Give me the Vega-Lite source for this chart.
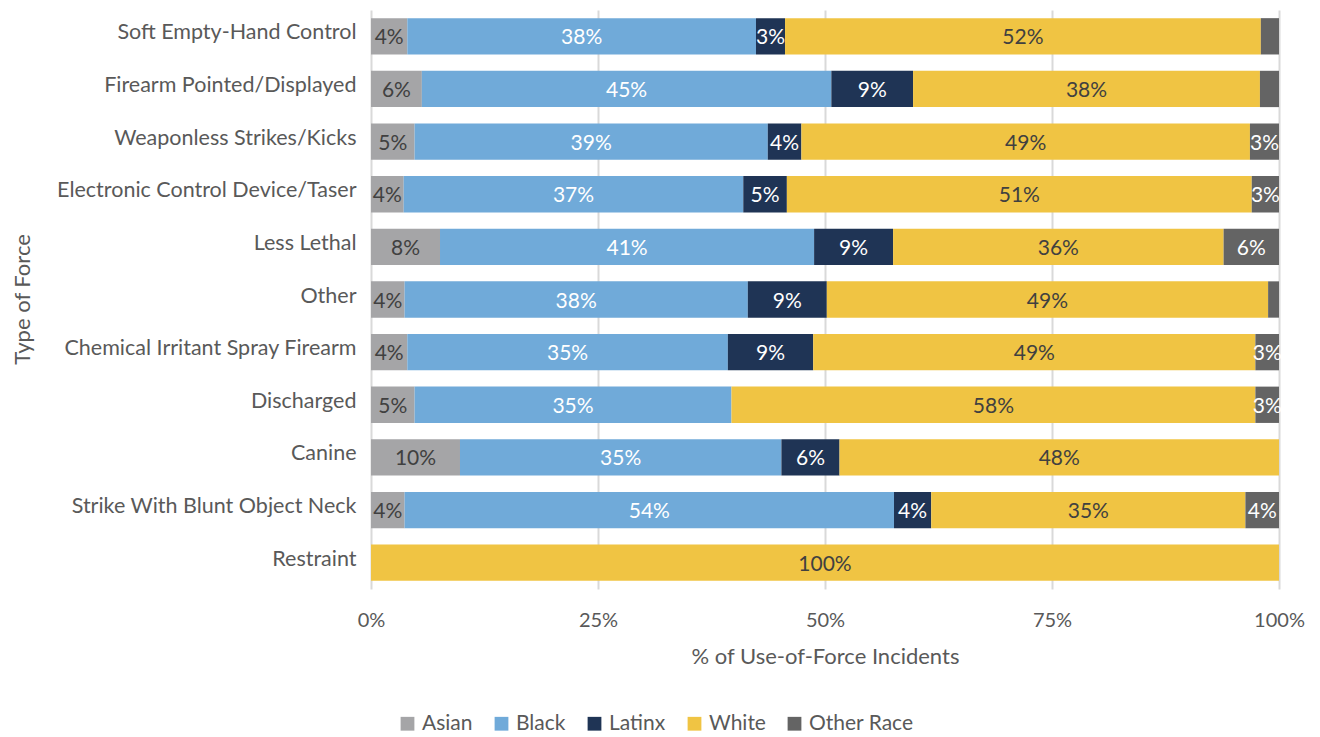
{
  "$schema": "https://vega.github.io/schema/vega-lite/v6.json",
  "width": 908,
  "height": 579,
  "autosize": "none",
  "padding": {"left": 371, "top": 10, "right": 41, "bottom": 148},
  "background": "white",
  "config": {
    "font": "Lato",
    "view": {"stroke": null}
  },
  "data": {
    "values": [
      {"force": "Soft Empty-Hand Control", "race": "Asian", "o": 1, "pct": 0.040},
      {"force": "Soft Empty-Hand Control", "race": "Black", "o": 2, "pct": 0.384},
      {"force": "Soft Empty-Hand Control", "race": "Latinx", "o": 3, "pct": 0.032},
      {"force": "Soft Empty-Hand Control", "race": "White", "o": 4, "pct": 0.524},
      {"force": "Soft Empty-Hand Control", "race": "Other Race", "o": 5, "pct": 0.020},
      {"force": "Firearm Pointed/Displayed", "race": "Asian", "o": 1, "pct": 0.056},
      {"force": "Firearm Pointed/Displayed", "race": "Black", "o": 2, "pct": 0.451},
      {"force": "Firearm Pointed/Displayed", "race": "Latinx", "o": 3, "pct": 0.090},
      {"force": "Firearm Pointed/Displayed", "race": "White", "o": 4, "pct": 0.382},
      {"force": "Firearm Pointed/Displayed", "race": "Other Race", "o": 5, "pct": 0.021},
      {"force": "Weaponless Strikes/Kicks", "race": "Asian", "o": 1, "pct": 0.048},
      {"force": "Weaponless Strikes/Kicks", "race": "Black", "o": 2, "pct": 0.389},
      {"force": "Weaponless Strikes/Kicks", "race": "Latinx", "o": 3, "pct": 0.037},
      {"force": "Weaponless Strikes/Kicks", "race": "White", "o": 4, "pct": 0.494},
      {"force": "Weaponless Strikes/Kicks", "race": "Other Race", "o": 5, "pct": 0.032},
      {"force": "Electronic Control Device/Taser", "race": "Asian", "o": 1, "pct": 0.036},
      {"force": "Electronic Control Device/Taser", "race": "Black", "o": 2, "pct": 0.374},
      {"force": "Electronic Control Device/Taser", "race": "Latinx", "o": 3, "pct": 0.048},
      {"force": "Electronic Control Device/Taser", "race": "White", "o": 4, "pct": 0.512},
      {"force": "Electronic Control Device/Taser", "race": "Other Race", "o": 5, "pct": 0.030},
      {"force": "Less Lethal", "race": "Asian", "o": 1, "pct": 0.076},
      {"force": "Less Lethal", "race": "Black", "o": 2, "pct": 0.412},
      {"force": "Less Lethal", "race": "Latinx", "o": 3, "pct": 0.087},
      {"force": "Less Lethal", "race": "White", "o": 4, "pct": 0.364},
      {"force": "Less Lethal", "race": "Other Race", "o": 5, "pct": 0.061},
      {"force": "Other", "race": "Asian", "o": 1, "pct": 0.037},
      {"force": "Other", "race": "Black", "o": 2, "pct": 0.378},
      {"force": "Other", "race": "Latinx", "o": 3, "pct": 0.087},
      {"force": "Other", "race": "White", "o": 4, "pct": 0.486},
      {"force": "Other", "race": "Other Race", "o": 5, "pct": 0.012},
      {"force": "Chemical Irritant Spray Firearm", "race": "Asian", "o": 1, "pct": 0.040},
      {"force": "Chemical Irritant Spray Firearm", "race": "Black", "o": 2, "pct": 0.353},
      {"force": "Chemical Irritant Spray Firearm", "race": "Latinx", "o": 3, "pct": 0.094},
      {"force": "Chemical Irritant Spray Firearm", "race": "White", "o": 4, "pct": 0.487},
      {"force": "Chemical Irritant Spray Firearm", "race": "Other Race", "o": 5, "pct": 0.026},
      {"force": "Discharged", "race": "Asian", "o": 1, "pct": 0.048},
      {"force": "Discharged", "race": "Black", "o": 2, "pct": 0.349},
      {"force": "Discharged", "race": "White", "o": 4, "pct": 0.577},
      {"force": "Discharged", "race": "Other Race", "o": 5, "pct": 0.026},
      {"force": "Canine", "race": "Asian", "o": 1, "pct": 0.098},
      {"force": "Canine", "race": "Black", "o": 2, "pct": 0.354},
      {"force": "Canine", "race": "Latinx", "o": 3, "pct": 0.064},
      {"force": "Canine", "race": "White", "o": 4, "pct": 0.484},
      {"force": "Strike With Blunt Object Neck", "race": "Asian", "o": 1, "pct": 0.037},
      {"force": "Strike With Blunt Object Neck", "race": "Black", "o": 2, "pct": 0.539},
      {"force": "Strike With Blunt Object Neck", "race": "Latinx", "o": 3, "pct": 0.041},
      {"force": "Strike With Blunt Object Neck", "race": "White", "o": 4, "pct": 0.346},
      {"force": "Strike With Blunt Object Neck", "race": "Other Race", "o": 5, "pct": 0.037},
      {"force": "Restraint", "race": "White", "o": 4, "pct": 1.0}
    ]
  },
  "transform": [
    {"stack": "pct", "groupby": ["force"], "sort": [{"field": "o", "order": "ascending"}], "as": ["x0", "x1"]},
    {"calculate": "(datum.x0 + datum.x1) / 2", "as": "mid"}
  ],
  "encoding": {
    "y": {
      "field": "force",
      "type": "nominal",
      "sort": ["Soft Empty-Hand Control", "Firearm Pointed/Displayed", "Weaponless Strikes/Kicks", "Electronic Control Device/Taser", "Less Lethal", "Other", "Chemical Irritant Spray Firearm", "Discharged", "Canine", "Strike With Blunt Object Neck", "Restraint"],
      "scale": {"paddingInner": 0.31, "paddingOuter": 0.155},
      "axis": {
        "title": "Type of Force",
        "titleFont": "Lato",
        "titleFontSize": 22,
        "titleFontWeight": "normal",
        "titleColor": "#595959",
        "titleX": -349,
        "titleY": 289,
        "titleAngle": -90,
        "titleAlign": "center",
        "titleBaseline": "middle",
        "labelFont": "Lato",
        "labelFontSize": 21.5,
        "labelColor": "#595959",
        "labelPadding": 15,
        "labelOffset": -3,
        "labelLimit": 0,
        "ticks": false,
        "domain": false,
        "grid": false
      }
    }
  },
  "layer": [
    {
      "mark": {"type": "bar"},
      "encoding": {
        "x": {
          "field": "x0",
          "type": "quantitative",
          "scale": {"domain": [0, 1], "nice": false},
          "axis": {
            "title": "% of Use-of-Force Incidents",
            "titleFont": "Lato",
            "titleFontSize": 22,
            "titleFontWeight": "normal",
            "titleColor": "#595959",
            "titlePadding": 16,
            "format": ".0%",
            "values": [0, 0.25, 0.5, 0.75, 1],
            "labelFont": "Lato",
            "labelFontSize": 20,
            "labelColor": "#595959",
            "labelPadding": 21,
            "labelFlush": false,
            "ticks": false,
            "domain": false,
            "grid": true,
            "gridColor": "#d9d9d9",
            "gridWidth": 2
          }
        },
        "x2": {"field": "x1"},
        "color": {
          "field": "race",
          "type": "nominal",
          "scale": {
            "domain": ["Asian", "Black", "Latinx", "White", "Other Race"],
            "range": ["#a5a5a7", "#70aad9", "#1f3455", "#f0c443", "#646464"]
          },
          "legend": {
            "title": null,
            "orient": "none",
            "direction": "horizontal",
            "legendX": 26,
            "legendY": 703,
            "symbolType": "square",
            "symbolSize": 190,
            "symbolStrokeWidth": 0,
            "labelFont": "Lato",
            "labelFontSize": 21,
            "labelColor": "#595959",
            "columnPadding": 18,
            "labelOffset": 4
          }
        }
      }
    },
    {
      "transform": [{"filter": "datum.pct >= 0.025"}],
      "mark": {"type": "text", "font": "Lato", "fontSize": 21, "align": "center", "baseline": "middle", "dy": 2},
      "encoding": {
        "x": {"field": "mid", "type": "quantitative"},
        "text": {"field": "pct", "type": "quantitative", "format": ".0%"},
        "color": {
          "condition": {"test": "datum.race === 'Black' || datum.race === 'Latinx' || datum.race === 'Other Race'", "value": "#ffffff"},
          "value": "#404040"
        }
      }
    }
  ]
}
